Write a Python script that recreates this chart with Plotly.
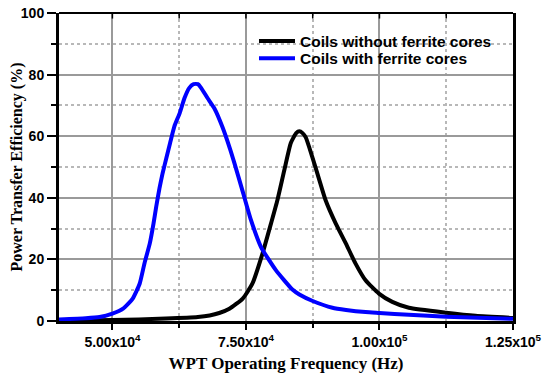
import plotly.graph_objects as go

# Coils with ferrite cores (blue)
freq_with = [40000, 45000, 47600, 50000, 52000, 53800, 55100, 56000, 57000, 57700, 58200, 58800,
             59400, 60100, 60800, 61600, 62600, 63500, 64400, 65200, 66000, 66600, 67800,
             69100, 70600, 72000, 72800, 74400, 75900, 77800, 80600, 83700, 85000, 87500,
             91200, 93750, 97400, 100000, 105500, 112500, 125000]
eff_with = [0.5, 0.9, 1.3, 2.4, 4.0, 7.3, 12.1, 18.7, 25.2, 31.7, 37.1, 43.0,
            48.0, 52.9, 57.8, 63.2, 67.5, 72.4, 75.7, 76.9, 76.9, 75.7, 72.4,
            69.0, 63.0, 56.0, 51.5, 42.0, 33.0, 24.1, 16.5, 10.2, 8.6, 6.5,
            4.3, 3.6, 2.9, 2.6, 2.0, 1.4, 0.7]

# Coils without ferrite cores (black)
freq_without = [40000, 50000, 60000, 66000, 68200, 70000, 71900, 74400, 76200, 78100, 79700, 80900,
                82200, 83400, 84400, 85000, 85600, 86200, 87400, 88700, 89900, 91800, 93700,
                95500, 97400, 99900, 102400, 105500, 112500, 118000, 125000]
eff_without = [0.1, 0.3, 0.8, 1.3, 1.8, 2.6, 4.0, 7.3, 12.1, 21.9, 31.7, 39.3,
               49.1, 57.8, 61.0, 61.6, 61.0, 59.6, 53.4, 46.0, 39.3, 31.7, 25.2,
               18.7, 13.2, 8.9, 6.2, 4.3, 2.7, 1.7, 1.0]

x_labels = {"50000": "5.00x10<sup>4</sup>", "75000": "7.50x10<sup>4</sup>",
            "100000": "1.00x10<sup>5</sup>", "125000": "1.25x10<sup>5</sup>"}
top_ticks = [50000, 62500, 75000, 87500, 100000, 112500]

sans = "Liberation Sans, Arial, sans-serif"
serif = "Liberation Serif, Times New Roman, serif"
tickfont = dict(family=sans, size=14, color="black", weight="bold")
legfont = dict(family=sans, size=15.5, color="black", weight="bold")

fig = go.Figure()
fig.add_trace(go.Scatter(x=freq_without, y=eff_without, mode="lines",
                         name="Coils without ferrite cores", legend="legend",
                         line=dict(color="black", width=4, shape="spline", smoothing=0.5)))
fig.add_trace(go.Scatter(x=freq_with, y=eff_with, mode="lines",
                         name="Coils with ferrite cores", legend="legend2",
                         line=dict(color="#0000ff", width=4, shape="spline", smoothing=0.5)))

grid_major = "#9a9a9a"
grid_minor = "#b8b8b8"

# page has an 8px body margin: figure is shrunk and margins shifted to compensate
fig.update_layout(
    template="none",
    width=542, height=371,
    margin=dict(l=51, r=37, t=5, b=58),
    paper_bgcolor="white", plot_bgcolor="white",
    showlegend=True,
    legend=dict(x=0.4295, y=0.963, xanchor="left", yanchor="top", bgcolor="rgba(0,0,0,0)",
                font=legfont, borderwidth=0, itemwidth=36),
    legend2=dict(x=0.4295, y=0.907, xanchor="left", yanchor="top", bgcolor="rgba(0,0,0,0)",
                 font=legfont, borderwidth=0, itemwidth=36),
    xaxis=dict(range=[40000, 125000], tickmode="linear", tick0=0, dtick=25000,
               tickformat="d", labelalias=x_labels, automargin=False, ticklabeloverflow="allow",
               ticks="outside", ticklen=6, tickwidth=2, tickcolor="black",
               showline=True, linewidth=3, linecolor="black",
               showgrid=True, gridcolor=grid_major, gridwidth=1.5, zeroline=False,
               tickfont=tickfont,
               minor=dict(dtick=12500, tick0=0, ticks="outside", ticklen=4,
                          tickwidth=2, tickcolor="black", showgrid=True,
                          gridcolor=grid_minor, griddash="dot", gridwidth=1.5),
               title=dict(text="WPT Operating Frequency (Hz)",
                          font=dict(family=serif, size=17, color="black", weight="bold"),
                          standoff=9)),
    yaxis=dict(range=[0, 100], tickmode="linear", tick0=0, dtick=20, automargin=False,
               ticklabeloverflow="allow",
               ticks="outside", ticklen=9, tickwidth=2, tickcolor="black",
               showline=True, linewidth=3, linecolor="black", mirror=True,
               showgrid=True, gridcolor=grid_major, gridwidth=1.5, zeroline=False,
               tickfont=tickfont,
               minor=dict(dtick=10, tick0=0, ticks="outside", ticklen=5,
                          tickwidth=2, tickcolor="black", showgrid=True,
                          gridcolor=grid_minor, griddash="dot", gridwidth=1.5),
               title=dict(text="Power Transfer Efficiency (%)",
                          font=dict(family=serif, size=16, color="black", weight="bold"),
                          standoff=0)),
)

# top frame line with inward ticks
fig.add_shape(type="line", xref="paper", yref="paper", x0=0, x1=1, y0=1, y1=1,
              line=dict(color="black", width=2))
for t in top_ticks:
    fig.add_shape(type="line", xref="x", yref="paper", x0=t, x1=t, y0=1, y1=0.982,
                  line=dict(color="black", width=1.5))

fig.write_html("out.html")
